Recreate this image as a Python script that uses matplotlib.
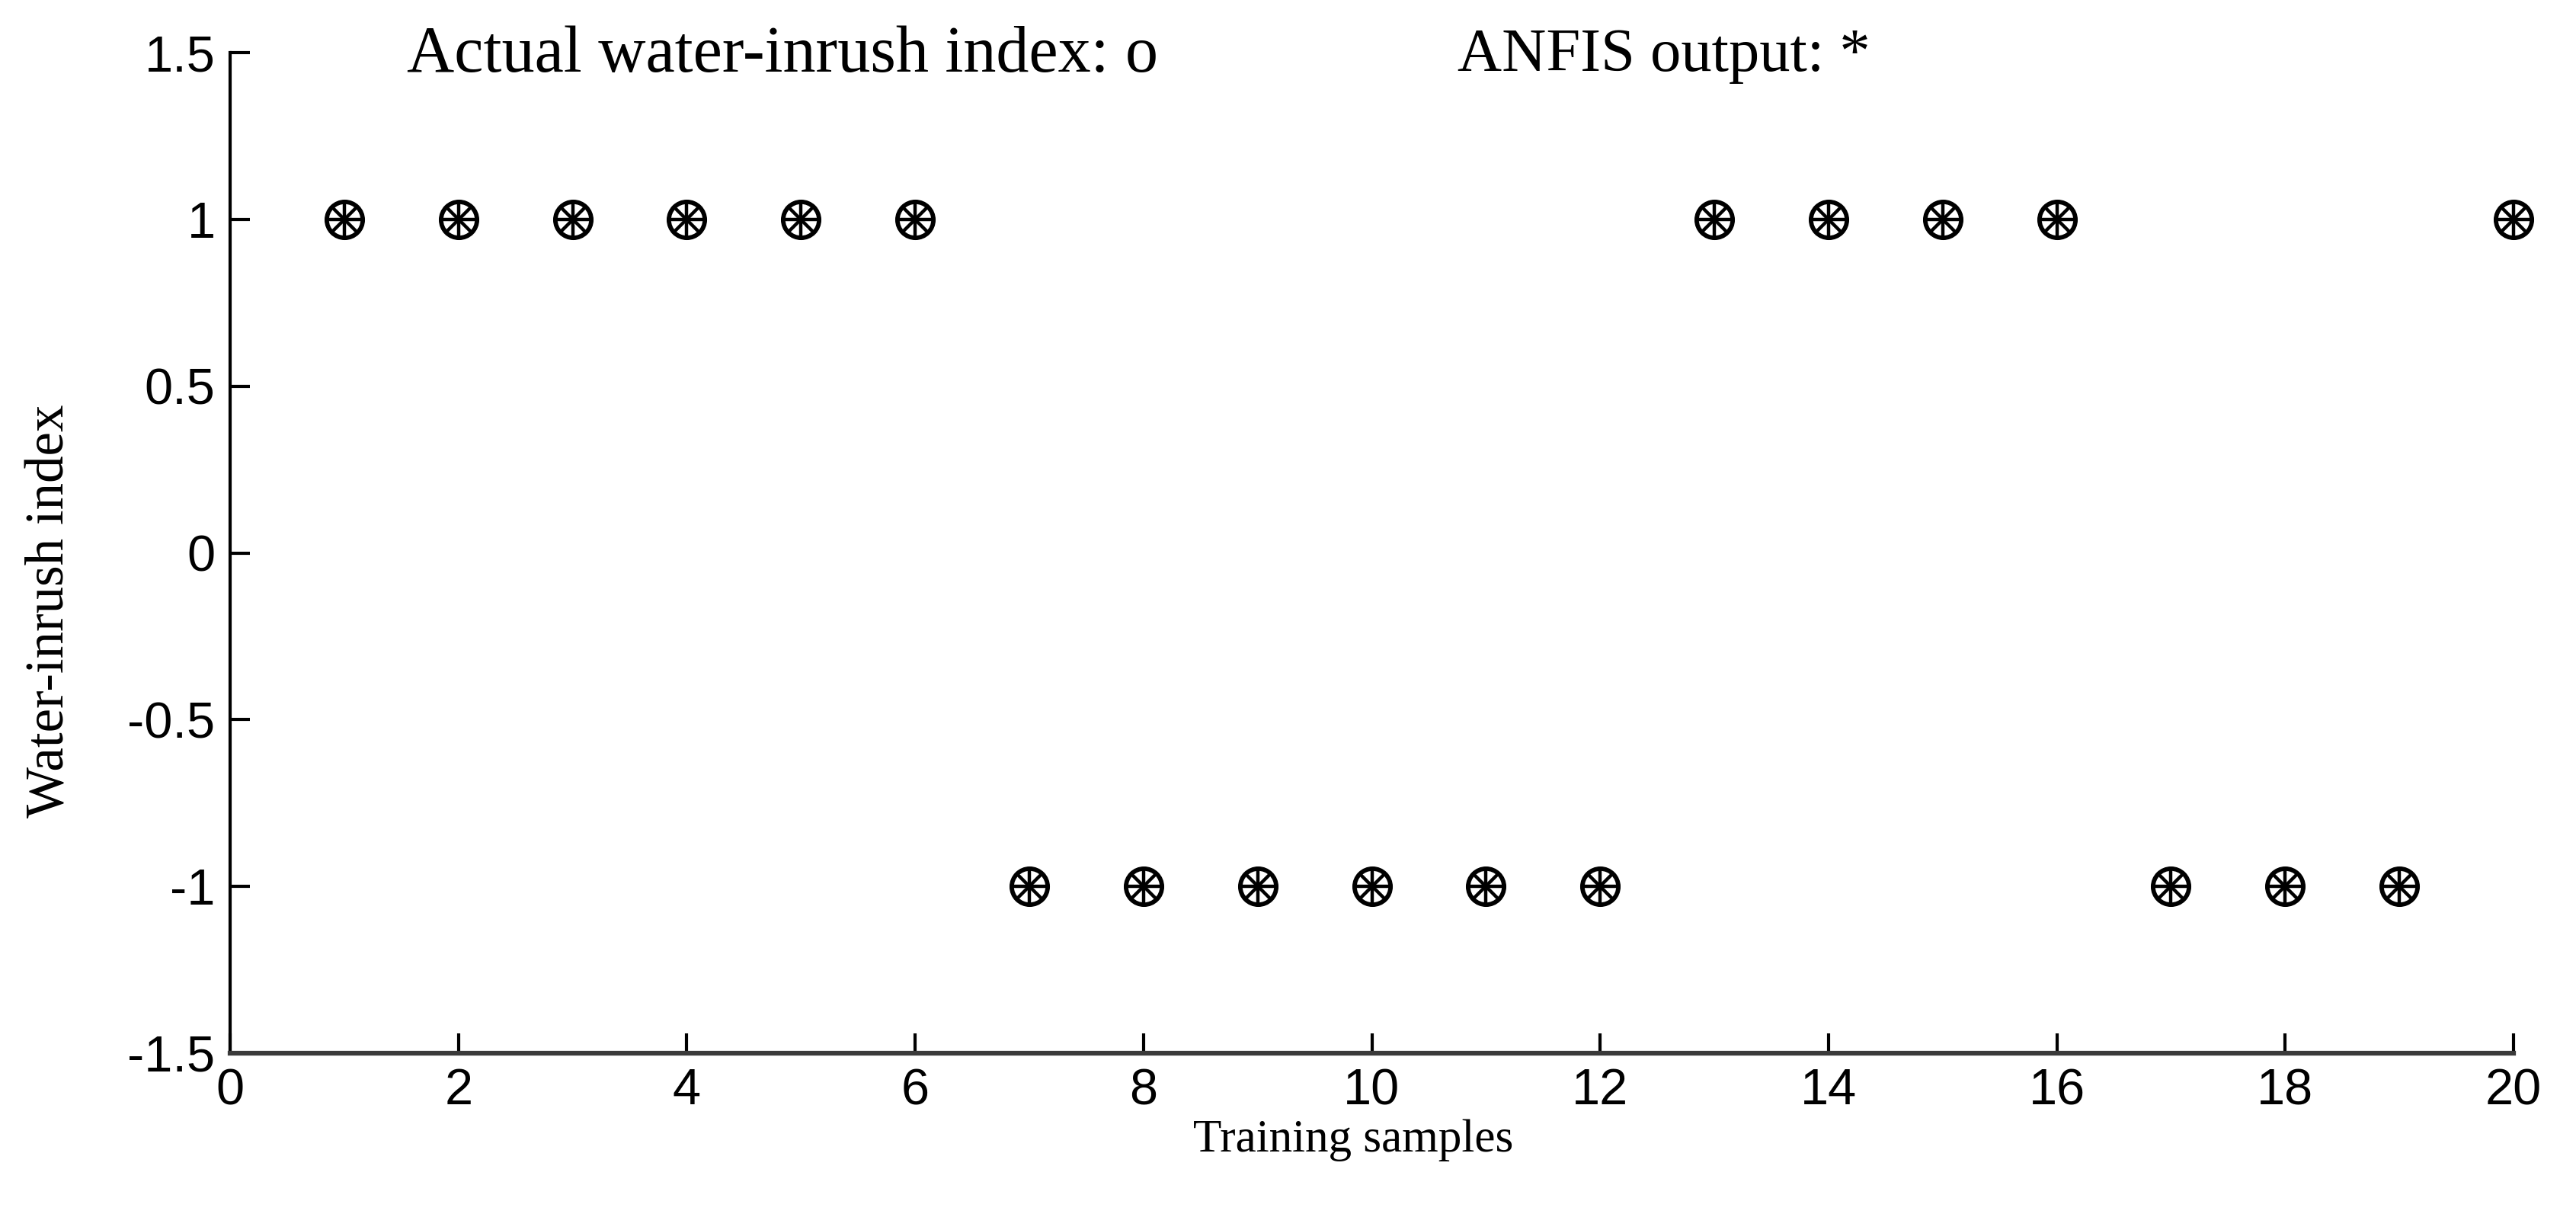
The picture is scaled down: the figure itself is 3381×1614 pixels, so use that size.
import numpy as np
import matplotlib
matplotlib.use("Agg")
import matplotlib.pyplot as plt

# training samples and water-inrush index (actual vs ANFIS output)
samples = np.arange(1, 21)
actual = [1, 1, 1, 1, 1, 1, -1, -1, -1, -1, -1, -1, 1, 1, 1, 1, -1, -1, -1, 1]
anfis = [1, 1, 1, 1, 1, 1, -1, -1, -1, -1, -1, -1, 1, 1, 1, 1, -1, -1, -1, 1]

xticks = [0, 2, 4, 6, 8, 10, 12, 14, 16, 18, 20]
yticks = [-1.5, -1, -0.5, 0, 0.5, 1, 1.5]
yticklabels = ['-1.5', '-1', '-0.5', '0', '0.5', '1', '1.5']

tick_font = ['Liberation Sans', 'DejaVu Sans']
text_font = ['Liberation Serif', 'DejaVu Serif']

fig = plt.figure(figsize=(33.81, 16.14), dpi=100)
ax = fig.add_axes([302/3381, 1 - 1382/1614, (3299-302)/3381, (1382-69)/1614])

ms = 34
# actual index: open circle
ax.plot(samples, actual, linestyle='none', marker='o', ms=ms,
        mfc='none', mec='black', mew=4.2, clip_on=False)
# ANFIS output: MATLAB-style asterisk (+ and x together)
ax.plot(samples, anfis, linestyle='none', marker='+', ms=ms,
        mec='black', mew=3.2, clip_on=False)
ax.plot(samples, anfis, linestyle='none', marker='x', ms=ms/np.sqrt(2),
        mec='black', mew=3.2, clip_on=False)

ax.set_xlim(0, 20)
ax.set_ylim(-1.5, 1.5)
ax.set_xticks(xticks)
ax.set_yticks(yticks)
ax.set_yticklabels(yticklabels)

for s in ['top', 'right']:
    ax.spines[s].set_visible(False)
ax.spines['left'].set_linewidth(3.0)
ax.spines['bottom'].set_linewidth(4.5)
ax.spines['bottom'].set_color('#3a3a3a')

ax.tick_params(direction='in', length=19, width=3.0, pad=14)
for lab in ax.get_xticklabels() + ax.get_yticklabels():
    lab.set_family(tick_font)
    lab.set_fontsize(48)

ax.set_xlabel('Training samples', family=text_font, fontsize=44)
ax.set_ylabel('Water-inrush index', family=text_font, fontsize=51)
ax.xaxis.set_label_coords(0.492, -0.066)
ax.yaxis.set_label_coords(-0.068, 0.442)

ax.text(1.55, 1.49, 'Actual water-inrush index: o', family=text_font,
        fontsize=62, va='center', ha='left')
ax.text(10.75, 1.49, 'ANFIS output: *', family=text_font,
        fontsize=58, va='center', ha='left')

fig.savefig('out.png', dpi=100, facecolor='white')
